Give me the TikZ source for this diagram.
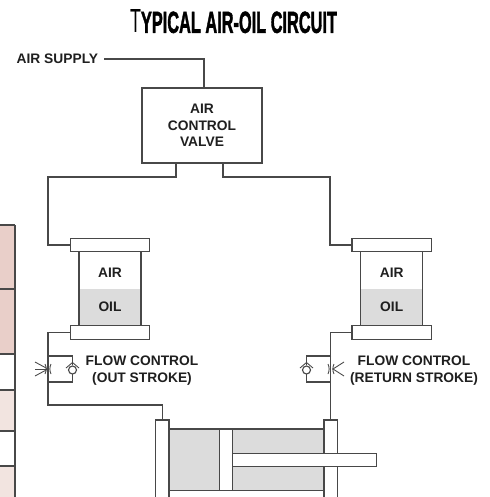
\documentclass[tikz,border=0pt]{standalone}
\usepackage{fontspec}
\setmainfont{Liberation Sans}
\newfontfamily\titlefont[UprightFont=* Bold,FakeBold=2]{Liberation Sans}
\definecolor{ink}{HTML}{484848}
\definecolor{oilgray}{HTML}{DCDCDC}
\definecolor{rowdark}{HTML}{E9CFC9}
\definecolor{rowlight}{HTML}{F2E4E0}
\newcommand{\px}{0.02cm}
\tikzset{
  part/.style={draw=ink, line width=.75pt, inner sep=0pt, outer sep=0pt},
  pipe/.style={draw=ink, line width=.65pt},
  thinpipe/.style={draw=ink, line width=.5pt},
  lid/.style={part, fill=white, minimum width=79.5*\px, minimum height=13.4*\px},
  endplate/.style={part, fill=white, minimum width=13.4*\px, minimum height=90*\px},
  lbl/.style={font=\bfseries\fontsize{7.85}{9.4}\selectfont, text=black!88, align=center, inner sep=0pt}
}
\begin{document}
\begin{tikzpicture}[x=\px, y=-\px]
    \useasboundingbox (0,0) rectangle (490,497);

    % Title
    \node (title) at (233.5,21.5) {\resizebox{4.14cm}{0.46cm}{\fontsize{18.2}{18.2}\selectfont T\titlefont\fontsize{16.6}{18}\selectfont YPICAL AIR-OIL CIRCUIT}};

    % Table edge on the left
    \fill[rowdark] (-5,225) rectangle (15,354);
    \fill[rowlight] (-5,390) rectangle (15,431);
    \fill[rowlight] (-5,466) rectangle (15,505);
    \draw[pipe] (-5,225) -- (15,225);
    \draw[pipe] (-5,289) -- (15,289);
    \draw[pipe] (-5,354) -- (15,354);
    \draw[pipe] (-5,390) -- (15,390);
    \draw[pipe] (-5,431) -- (15,431);
    \draw[pipe] (-5,466) -- (15,466);
    \draw[pipe] (15,225) -- (15,505);

    % Air supply and valve
    \node[lbl, anchor=east] (supply) at (98.5,59) {AIR SUPPLY};
    \node[part, lbl, minimum width=120*\px, minimum height=75*\px] (valve) at (202,125.5) {AIR\\CONTROL\\VALVE};
    \coordinate (supplyend) at (104,59);
    \coordinate (valvein) at (204,88);
    \coordinate (valveoutL) at (176,163);
    \coordinate (valveoutR) at (223,163);
    \draw[pipe] (supplyend) -| (valvein);

    % Left reservoir
    \fill[oilgray] (79,288.5) rectangle (141,326);
    \node[part, minimum width=62*\px, minimum height=74.5*\px] (bodyL) at (110,289) {};
    \node[lid] (topL) at (110,245) {};
    \node[lid] (botL) at (110,332.5) {};
    \node[lbl] (airL) at (110,272.5) {AIR};
    \node[lbl] (oilL) at (110,307) {OIL};

    % Right reservoir
    \fill[oilgray] (360.7,288.5) rectangle (422.7,326);
    \node[part, minimum width=62*\px, minimum height=74.5*\px] (bodyR) at (391.7,289) {};
    \node[lid] (topR) at (391.7,245) {};
    \node[lid] (botR) at (391.7,332.5) {};
    \node[lbl] (airR) at (391.7,272.5) {AIR};
    \node[lbl] (oilR) at (391.7,307) {OIL};

    % Lines from valve to reservoirs
    \draw[pipe] (valveoutL) -- (176,177) -- (48,177) |- (topL.west);
    \draw[pipe] (valveoutR) -- (223,177) -- (330,177) |- (topR.west);

    % Cylinder
    \fill[oilgray] (169,429) rectangle (324.3,490.7);
    \draw[part] (169,429) -- (324.3,429);
    \draw[part] (169,490.7) -- (324.3,490.7);
    \node[endplate, anchor=north] (plateL) at (162.3,420) {};
    \node[endplate, anchor=north] (plateR) at (330.8,420) {};
    \node[part, fill=white, minimum width=13*\px, minimum height=61.5*\px] (piston) at (226.2,460) {};
    \node[part, fill=white, anchor=west, minimum width=143.6*\px, minimum height=13*\px] (rod) at (232.7,459.8) {};

    % Lines from reservoirs to cylinder
    \draw[pipe] (botL.west) -| (48,405) -| (plateL.north);
    \draw[pipe] (botR.west) -| (plateR.north);

    % Flow control, out stroke
    \draw[pipe] (48,356) -- (72.5,356) -- (72.5,365);
    \draw[pipe] (72.5,374) -- (72.5,382) -- (48,382);
    \draw[pipe] (72.5,370) circle (4);
    \draw[thinpipe] (66,368) -- (72.5,362.5) -- (79,368);
    \draw[thinpipe] (35,362) -- (48,369) -- (35,376);
    \draw[thinpipe] (35,369) -- (48,369);
    \draw[thinpipe] (45,364) .. controls (46.5,367) and (46.5,371) .. (45,374);
    \draw[thinpipe] (51,364) .. controls (49.5,367) and (49.5,371) .. (51,374);
    \node[lbl] (flowL) at (142,370.5) {FLOW CONTROL\\(OUT STROKE)};

    % Flow control, return stroke
    \draw[pipe] (331,356) -- (306.5,356) -- (306.5,365);
    \draw[pipe] (306.5,374) -- (306.5,382) -- (331,382);
    \draw[pipe] (306.5,370) circle (4);
    \draw[thinpipe] (300,368) -- (306.5,362.5) -- (313,368);
    \draw[thinpipe] (344,362) -- (333,369) -- (344,376);
    \draw[thinpipe] (328,364) .. controls (329.5,367) and (329.5,371) .. (328,374);
    \draw[thinpipe] (334,364) .. controls (332.5,367) and (332.5,371) .. (334,374);
    \node[lbl] (flowR) at (414,370.5) {FLOW CONTROL\\(RETURN STROKE)};
\end{tikzpicture}
\end{document}
